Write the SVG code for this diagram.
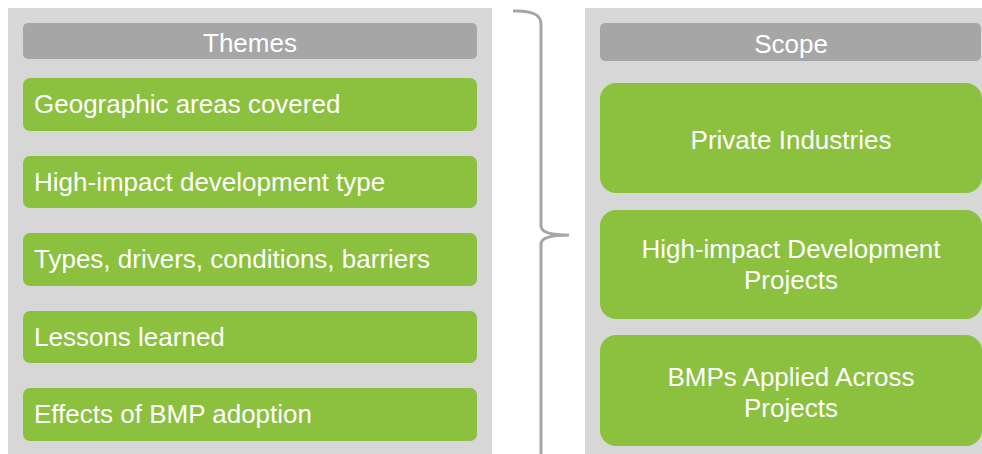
<svg xmlns="http://www.w3.org/2000/svg" width="982" height="454" viewBox="0 0 982 454">
<style>
.panel{fill:#d7d7d7}
.hdr{fill:#a6a6a6}
.box{fill:#8cc03f}
text{font-family:"Liberation Sans",Arial,sans-serif;font-size:26px;fill:#ffffff}
.c{text-anchor:middle}
.brace{fill:none;stroke:#a6a6a6;stroke-width:3;stroke-linecap:butt}
</style>
<rect width="982" height="454" fill="#ffffff"/>
<g id="themes-panel">
<rect class="panel" x="8" y="8" width="484" height="446"/>
</g>
<g id="themes-header">
<rect class="hdr" x="23" y="23" width="454" height="36" rx="5"/>
<text class="c" x="250" y="52">Themes</text>
</g>
<g id="theme-1">
<rect class="box" x="23" y="78" width="454" height="53" rx="7"/>
<text x="34" y="113">Geographic areas covered</text>
</g>
<g id="theme-2">
<rect class="box" x="23" y="156" width="454" height="52" rx="7"/>
<text x="34" y="191">High-impact development type</text>
</g>
<g id="theme-3">
<rect class="box" x="23" y="233" width="454" height="53" rx="7"/>
<text x="34" y="268">Types, drivers, conditions, barriers</text>
</g>
<g id="theme-4">
<rect class="box" x="23" y="311" width="454" height="52" rx="7"/>
<text x="34" y="346">Lessons learned</text>
</g>
<g id="theme-5">
<rect class="box" x="23" y="388" width="454" height="53" rx="7"/>
<text x="34" y="423">Effects of BMP adoption</text>
</g>
<g id="connectors">
<path class="brace" d="M513,11 Q541,10 541,24 L541,226 Q541,235 569,235 Q541,235 541,244 L541,460"/>
</g>
<g id="scope-panel">
<rect class="panel" x="585" y="8" width="400" height="446"/>
</g>
<g id="scope-header">
<rect class="hdr" x="600" y="23" width="381" height="38" rx="5"/>
<text class="c" x="791" y="53">Scope</text>
</g>
<g id="scope-1">
<rect class="box" x="600" y="83" width="382" height="110" rx="16"/>
<text class="c" x="791" y="149">Private Industries</text>
</g>
<g id="scope-2">
<rect class="box" x="600" y="210" width="382" height="109" rx="16"/>
<text class="c" x="791" y="258">High-impact Development</text>
<text class="c" x="791" y="289">Projects</text>
</g>
<g id="scope-3">
<rect class="box" x="600" y="335" width="382" height="111" rx="16"/>
<text class="c" x="791" y="386">BMPs Applied Across</text>
<text class="c" x="791" y="417">Projects</text>
</g>
</svg>
